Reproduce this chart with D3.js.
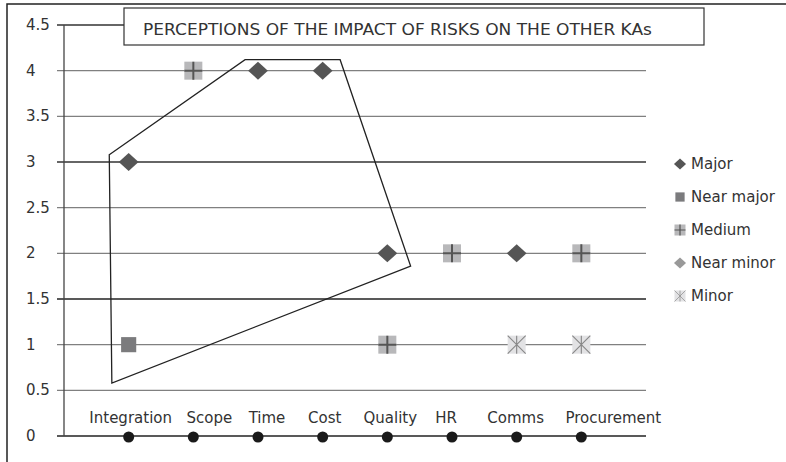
<!DOCTYPE html>
<html lang="en">
<head>
    <meta charset="UTF-8">
    <title>Perceptions of the impact of risks on the other KAs</title>
    <script src="https://d3js.org/d3.v7.min.js"></script>
    <style>
        body { margin: 0; padding: 0; background: #fff; }
        svg { display: block; }
        text { font-family: "DejaVu Sans", sans-serif; fill: #333; }
    </style>
</head>
<body>
    <svg></svg>
    <script>
        const categories = ["Integration", "Scope", "Time", "Cost", "Quality", "HR", "Comms", "Procurement"];
        const yTicks = [0, 0.5, 1, 1.5, 2, 2.5, 3, 3.5, 4, 4.5];
        const seriesNames = ["Major", "Near major", "Medium", "Near minor", "Minor"];

        // null = no point for that KA
        const major     = [3, null, 4, 4, 2, null, 2, null];
        const nearMajor = [1, null, null, null, null, null, null, null];
        const medium    = [null, 4, null, null, 1, 2, null, 2];
        const nearMinor = [null, null, null, null, null, null, null, null];
        const minor     = [null, null, null, null, null, null, 1, 1];
        const baseline  = [0, 0, 0, 0, 0, 0, 0, 0];

        // hand-drawn outline, in chart units (x: category slot, y: value)
        const outline = [[0.70, 3.08], [2.80, 4.12], [4.27, 4.12], [5.36, 1.86], [0.74, 0.58]];

        const width = 786, height = 462;
        const svg = d3.select("svg").attr("width", width).attr("height", height);

        const x = d3.scaleLinear().domain([0, categories.length + 1]).range([64, 646]);
        const y = d3.scaleLinear().domain([0, 4.5]).range([436, 25]);

        // category labels are nudged like in the original (in px)
        const labelNudge = [2, 16, 9, 2, 3, -6, -1, 32];

        // outer frame (only top and left visible)
        svg.append("path")
            .attr("d", `M7,${height} L7,4 L${width},4`)
            .attr("fill", "none")
            .attr("stroke", "#222")
            .attr("stroke-width", 1.5);

        // gridlines with little ticks to the left of the axis
        const gridColor = { 0: "#222", 1.5: "#222", 3: "#333", 4.5: "#333" };
        svg.append("g").selectAll("line")
            .data(yTicks)
            .join("line")
            .attr("x1", 57).attr("x2", x.range()[1])
            .attr("y1", d => y(d)).attr("y2", d => y(d))
            .attr("stroke", d => gridColor[d] || "#808080")
            .attr("stroke-width", 1.3);

        svg.append("line")
            .attr("x1", x(0)).attr("x2", x(0))
            .attr("y1", y(4.5)).attr("y2", y(0))
            .attr("stroke", "#444").attr("stroke-width", 1.3);

        svg.append("g").selectAll("text")
            .data(yTicks)
            .join("text")
            .attr("x", 26)
            .attr("y", d => y(d) + 5)
            .attr("font-size", 15)
            .text(d => d);

        // category labels
        svg.append("g").selectAll("text")
            .data(categories)
            .join("text")
            .attr("x", (d, i) => x(i + 1) + labelNudge[i])
            .attr("y", 423)
            .attr("text-anchor", "middle")
            .attr("font-size", 15)
            .text(d => d);

        // outline annotation
        svg.append("path")
            .attr("d", d3.line().x(d => x(d[0])).y(d => y(d[1])).curve(d3.curveLinearClosed)(outline))
            .attr("fill", "none")
            .attr("stroke", "#222")
            .attr("stroke-width", 1.3);

        // marker drawers
        const markers = {
            "Major": (g, s) => g.append("path")
                .attr("d", `M0,${-s * 0.5} L${s * 0.55},0 L0,${s * 0.5} L${-s * 0.55},0 Z`)
                .attr("fill", "#555"),
            "Near major": (g, s) => g.append("rect")
                .attr("x", -s * 0.42).attr("y", -s * 0.42).attr("width", s * 0.84).attr("height", s * 0.84)
                .attr("fill", "#7b7b7d"),
            "Medium": (g, s) => {
                g.append("rect")
                    .attr("x", -s / 2).attr("y", -s / 2).attr("width", s).attr("height", s)
                    .attr("fill", "#b8b8ba");
                g.append("path")
                    .attr("d", `M0,${-s / 2} V${s / 2} M${-s / 2},0 H${s / 2}`)
                    .attr("stroke", "#555").attr("stroke-width", s / 9);
            },
            "Near minor": (g, s) => g.append("path")
                .attr("d", `M0,${-s * 0.5} L${s * 0.55},0 L0,${s * 0.5} L${-s * 0.55},0 Z`)
                .attr("fill", "#999"),
            "Minor": (g, s) => {
                g.append("rect")
                    .attr("x", -s / 2).attr("y", -s / 2).attr("width", s).attr("height", s)
                    .attr("fill", "#e2e2e4");
                const h = s / 2;
                g.append("path")
                    .attr("d", `M0,${-h} V${h} M${-h},${-h} L${h},${h} M${h},${-h} L${-h},${h}`)
                    .attr("stroke", "#888").attr("stroke-width", s / 16);
            }
        };

        const series = [
            { name: "Major", values: major },
            { name: "Near major", values: nearMajor },
            { name: "Medium", values: medium },
            { name: "Near minor", values: nearMinor },
            { name: "Minor", values: minor }
        ];

        // zero line dots
        svg.append("g").selectAll("circle")
            .data(baseline)
            .join("circle")
            .attr("cx", (d, i) => x(i + 1))
            .attr("cy", d => y(d) + 1)
            .attr("r", 5.5)
            .attr("fill", "#1a1a1a");

        series.forEach(sr => {
            sr.values.forEach((v, i) => {
                if (v === null) return;
                const g = svg.append("g").attr("transform", `translate(${x(i + 1)},${y(v)})`);
                markers[sr.name](g, 18);
            });
        });

        // title box
        svg.append("rect")
            .attr("x", 124).attr("y", 8).attr("width", 580).attr("height", 37)
            .attr("fill", "#fff").attr("stroke", "#333").attr("stroke-width", 1.2);
        svg.append("text")
            .attr("x", 143).attr("y", 35)
            .attr("font-size", 15)
            .attr("textLength", 509)
            .attr("lengthAdjust", "spacingAndGlyphs")
            .text("PERCEPTIONS OF THE IMPACT OF RISKS ON THE OTHER KAs");

        // legend
        const legend = svg.append("g").selectAll("g")
            .data(seriesNames)
            .join("g")
            .attr("transform", (d, i) => `translate(680,${164 + i * 33})`);
        legend.each(function (d) { markers[d](d3.select(this), 11); });
        legend.append("text")
            .attr("x", 11)
            .attr("y", 5)
            .attr("font-size", 15)
            .text(d => d);
    </script>
</body>
</html>
